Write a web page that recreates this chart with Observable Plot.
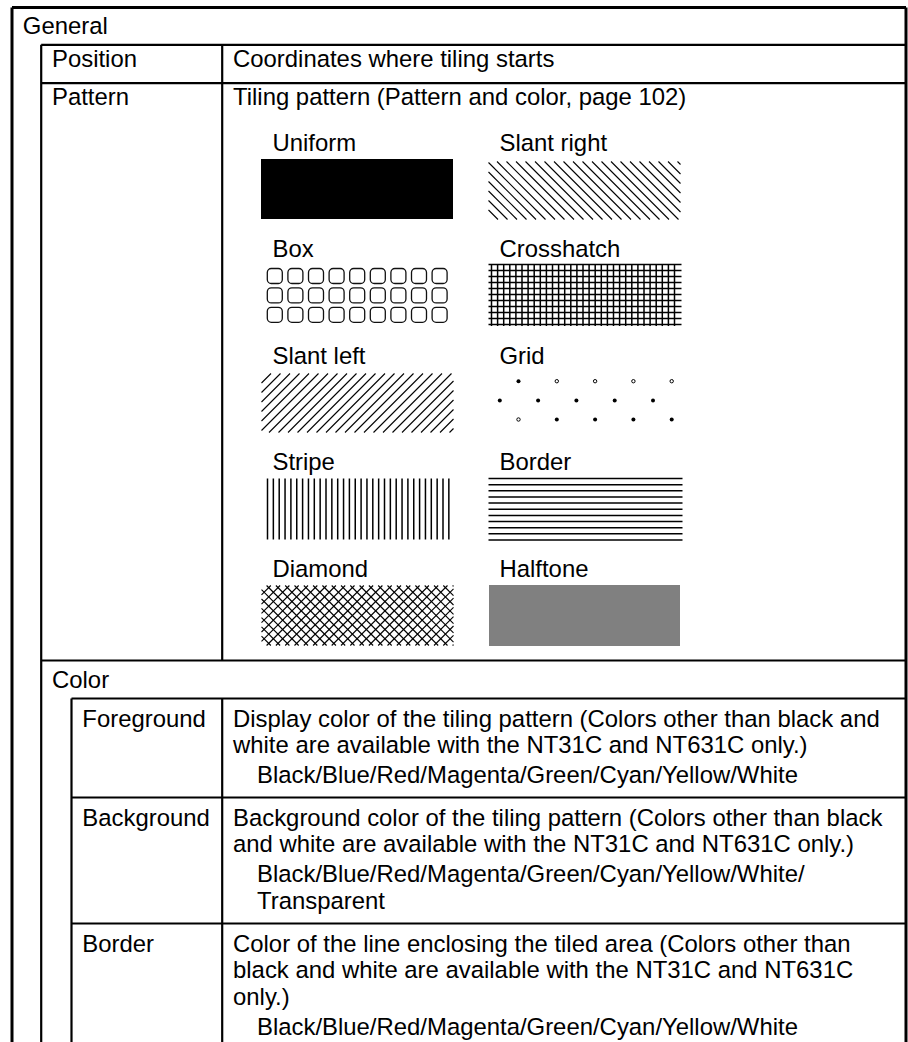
<!DOCTYPE html>
<html>
<head>
<meta charset="utf-8">
<script src="https://cdn.jsdelivr.net/npm/d3@7"></script>
<script src="https://cdn.jsdelivr.net/npm/@observablehq/plot@0.6"></script>
<style>
  html, body { margin: 0; padding: 0; background: #fff; overflow: hidden; }
</style>
</head>
<body>
<div id="chart"></div>
<script>
// ---------------- DATA (text content of the table) ----------------
const sectionLabels = ["General", "Color"];
const generalItems = ["Position", "Pattern"];
const generalDescriptions = [
  "Coordinates where tiling starts",
  "Tiling pattern (Pattern and color, page 102)"
];
const patternNames = [
  "Uniform", "Slant right",
  "Box", "Crosshatch",
  "Slant left", "Grid",
  "Stripe", "Border",
  "Diamond", "Halftone"
];
const colorItems = ["Foreground", "Background", "Border"];
const colorDescriptions = [
  ["Display color of the tiling pattern (Colors other than black and",
   "white are available with the NT31C and NT631C only.)"],
  ["Background color of the tiling pattern (Colors other than black",
   "and white are available with the NT31C and NT631C only.)"],
  ["Color of the line enclosing the tiled area (Colors other than",
   "black and white are available with the NT31C and NT631C",
   "only.)"]
];
const colorChoices = [
  ["Black/Blue/Red/Magenta/Green/Cyan/Yellow/White"],
  ["Black/Blue/Red/Magenta/Green/Cyan/Yellow/White/", "Transparent"],
  ["Black/Blue/Red/Magenta/Green/Cyan/Yellow/White"]
];

// ---------------- LAYOUT ----------------
const W = 908, H = 1042;
const FONT = "'Liberation Sans', Arial, Helvetica, sans-serif";
const FS = 23.9;
const frameL = 11.5, frameR = 905.5, frameT = 7;
const innerL = 40.7, colorL = 71, divX = 221.7;
const yPosition = 44.3, yPattern = 82.7, yColor = 660;
const itemTops = [698, 797, 923];
const pad = 10.8;
const lineStep = 26.7, firstOffset = 28, listGap = 3.5, listIndent = 24;

// pattern swatch grid
const swX = [261, 488], swW = 192, swY0 = 159, swRowStep = 106.5, swH = 60;

// ---------------- TABLE LINES ----------------
const outerLines = [
  {x1: frameL, y1: frameT, x2: frameR, y2: frameT},
  {x1: frameL, y1: frameT, x2: frameL, y2: H + 5},
  {x1: frameR, y1: frameT, x2: frameR, y2: H + 5}
];
const innerLines = [
  {x1: innerL, y1: yPosition, x2: frameR, y2: yPosition},
  {x1: innerL, y1: yPattern, x2: frameR, y2: yPattern},
  {x1: innerL, y1: yColor, x2: frameR, y2: yColor},
  {x1: innerL, y1: yPosition, x2: innerL, y2: H + 5},
  {x1: divX, y1: yPosition, x2: divX, y2: yColor},
  {x1: colorL, y1: itemTops[0], x2: colorL, y2: H + 5},
  {x1: divX, y1: itemTops[0], x2: divX, y2: H + 5},
  ...itemTops.map(t => ({x1: colorL, y1: t, x2: frameR, y2: t}))
];

// ---------------- TEXT ----------------
const texts = [];
texts.push({x: frameL + pad, y: 33.3, t: sectionLabels[0]});
const genBase = [66, 104];
generalItems.forEach((g, i) => {
  texts.push({x: innerL + pad, y: genBase[i], t: g});
  texts.push({x: divX + pad, y: genBase[i], t: generalDescriptions[i]});
});
texts.push({x: innerL + pad, y: 687, t: sectionLabels[1]});
colorItems.forEach((c, i) => {
  const top = itemTops[i];
  const b0 = top + firstOffset;
  texts.push({x: colorL + pad, y: b0, t: c});
  colorDescriptions[i].forEach((line, j) => {
    texts.push({x: divX + pad, y: b0 + j * lineStep, t: line});
  });
  const n = colorDescriptions[i].length;
  colorChoices[i].forEach((line, j) => {
    texts.push({x: divX + pad + listIndent, y: b0 + n * lineStep + listGap + j * lineStep, t: line});
  });
});

// pattern cells
const cells = patternNames.map((name, i) => {
  const col = i % 2, row = Math.floor(i / 2);
  const x0 = swX[col], y0 = swY0 + row * swRowStep;
  return {name, x0, y0, x1: x0 + swW, y1: y0 + swH};
});
cells.forEach(c => texts.push({x: c.x0 + 11, y: c.y0 - 9, t: c.name}));

// ---------------- PATTERN GEOMETRY ----------------
const cell = name => cells.find(c => c.name === name);
const thin = [];
const thick = [];
const solidRects = [];
const boxes = [];
const dotsFilled = [], dotsHollow = [];

function diagDown(c, s, out) { // "\" lines
  const h = c.y1 - c.y0;
  for (let k = c.x0 - h; k <= c.x1; k += s) {
    const t0 = Math.max(0, c.x0 - k), t1 = Math.min(h, c.x1 - k);
    if (t1 - t0 > 0.5) out.push({x1: k + t0, y1: c.y0 + t0, x2: k + t1, y2: c.y0 + t1});
  }
}
function diagUp(c, s, out) { // "/" lines
  const h = c.y1 - c.y0;
  for (let k = c.x0; k <= c.x1 + h; k += s) {
    const t0 = Math.max(0, k - c.x1), t1 = Math.min(h, k - c.x0);
    if (t1 - t0 > 0.5) out.push({x1: k - t0, y1: c.y0 + t0, x2: k - t1, y2: c.y0 + t1});
  }
}

{ const c = cell("Uniform"); solidRects.push({...c, fill: "#000"}); }
{ const c = cell("Halftone"); solidRects.push({x0: c.x0 + 1, y0: c.y0, x1: c.x1, y1: c.y1 + 1, fill: "#808080"}); }
{ const c = cell("Slant right"); diagDown({...c, y0: c.y0 + 2}, 9.5, thin); }
{ const c = cell("Slant left"); diagUp({...c, y0: c.y0 + 1}, 9.5, thin); }
{ const c = cell("Diamond"); diagDown(c, 9.3, thin); diagUp(c, 9.3, thin); }
{ const c = cell("Crosshatch");
  const yt = c.y0 - 1.5, yb = c.y1;
  for (let x = c.x0 + 3; x <= c.x1; x += 6.1) thick.push({x1: x, y1: yt, x2: x, y2: yb});
  for (let y = yt; y <= yb + 0.1; y += 6) thick.push({x1: c.x0, y1: y, x2: c.x1 + 1, y2: y});
}
{ const c = cell("Stripe");
  for (let x = c.x0 + 6; x <= c.x0 + 188; x += 5.85) thick.push({x1: x, y1: c.y0 - 0.5, x2: x, y2: c.y1 + 0.5});
}
{ const c = cell("Border");
  for (let y = c.y0 - 0.5; y <= c.y1 + 1; y += 6.15) thick.push({x1: c.x0, y1: y, x2: c.x1 + 2, y2: y});
}
{ const c = cell("Box");
  for (let r = 0; r < 3; r++) for (let k = 0; k < 9; k++)
    boxes.push({x0: c.x0 + 6.3 + k * 20.6, y0: c.y0 + 3 + r * 19.4, x1: c.x0 + 6.3 + k * 20.6 + 15, y1: c.y0 + 3 + r * 19.4 + 15});
}
{ const c = cell("Grid");
  const rows = [c.y0 + 8.7, c.y0 + 28, c.y0 + 47];
  for (let k = 0; k < 5; k++) {
    const xa = c.x0 + 30 + k * 38.3, xb = c.x0 + 11.3 + k * 38.3;
    (k === 0 ? dotsFilled : dotsHollow).push({x: xa, y: rows[0]});
    dotsFilled.push({x: xb, y: rows[1]});
    (k === 0 ? dotsHollow : dotsFilled).push({x: xa, y: rows[2]});
  }
}

// ---------------- PLOT ----------------
const chart = Plot.plot({
  width: W,
  height: H,
  margin: 0,
  x: {domain: [0, W], range: [0, W], axis: null},
  y: {domain: [0, H], range: [0, H], axis: null},
  style: {background: "#fff", fontFamily: FONT},
  marks: [
    Plot.rect(solidRects, {x1: "x0", x2: "x1", y1: "y0", y2: "y1", fill: d => d.fill}),
    Plot.rect(boxes, {x1: "x0", x2: "x1", y1: "y0", y2: "y1", fill: "none", stroke: "#111", strokeWidth: 1.3, rx: 4}),
    Plot.link(thin, {x1: "x1", y1: "y1", x2: "x2", y2: "y2", stroke: "#000", strokeWidth: 1.1}),
    Plot.link(thick, {x1: "x1", y1: "y1", x2: "x2", y2: "y2", stroke: "#000", strokeWidth: 1.5}),
    Plot.dot(dotsFilled, {x: "x", y: "y", r: 2, fill: "#000"}),
    Plot.dot(dotsHollow, {x: "x", y: "y", r: 1.7, fill: "none", stroke: "#000", strokeWidth: 1}),
    Plot.link(innerLines, {x1: "x1", y1: "y1", x2: "x2", y2: "y2", stroke: "#000", strokeWidth: 2.2}),
    Plot.link(outerLines, {x1: "x1", y1: "y1", x2: "x2", y2: "y2", stroke: "#000", strokeWidth: 3}),
    Plot.text(texts, {x: "x", y: "y", text: "t", textAnchor: "start", lineAnchor: "bottom",
      fontSize: FS, fontFamily: FONT, fill: "#000"})
  ]
});
document.getElementById("chart").appendChild(chart);
</script>
</body>
</html>
